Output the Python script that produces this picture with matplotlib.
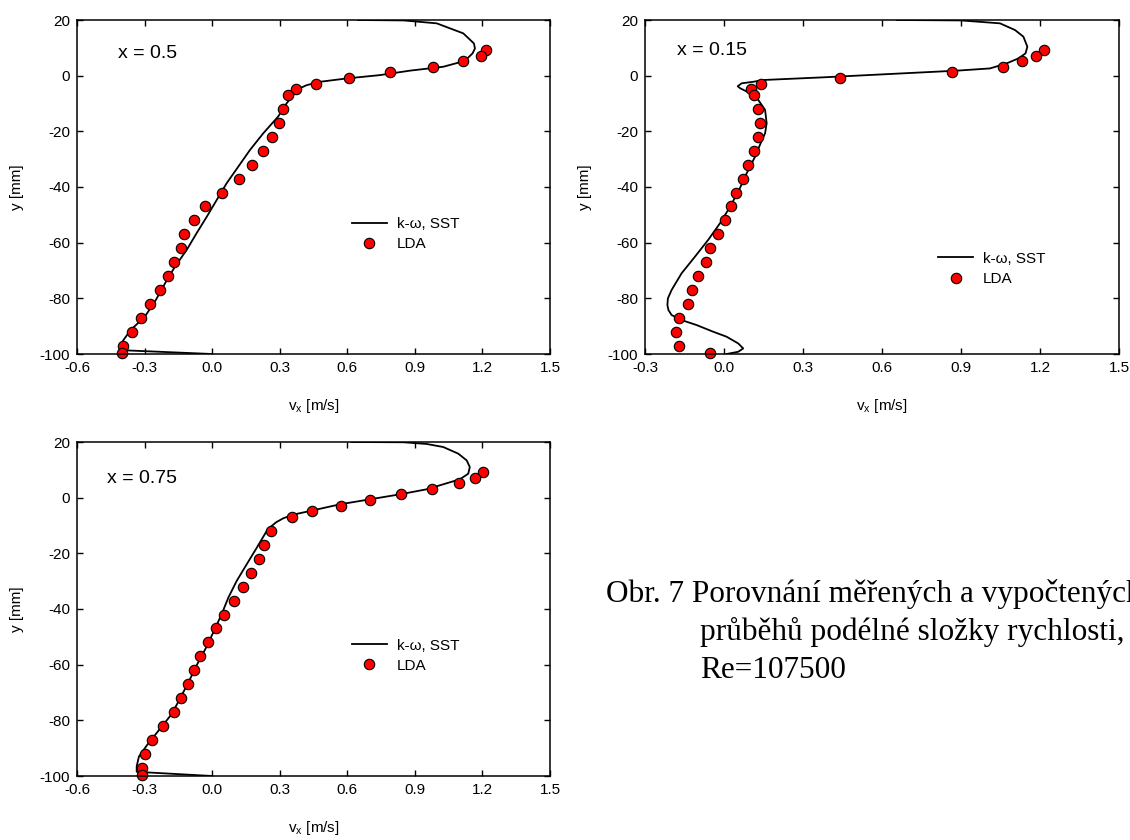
import matplotlib
matplotlib.use("Agg")
import matplotlib.pyplot as plt

plt.rcParams['font.family'] = ['Liberation Sans', 'DejaVu Sans']
plt.rcParams['axes.unicode_minus'] = False

# LDA measurement heights (same traverse for all three sections)
y_lda = [9.2, 7.2, 5.2, 3.1, 1.2, -0.9, -2.9, -4.9, -7.0, -12, -17, -22, -27, -32,
         -37, -42, -47, -52, -57, -62, -67, -72, -77, -82, -87, -92, -97, -99.5]

# x = 0.5
vx_lda_05 = [1.217, 1.192, 1.115, 0.98, 0.789, 0.609, 0.462, 0.373, 0.335, 0.316, 0.295,
             0.267, 0.227, 0.175, 0.118, 0.045, -0.03, -0.082, -0.124, -0.14, -0.168,
             -0.198, -0.232, -0.275, -0.315, -0.355, -0.396, -0.399]
vx_sst_05 = [0.647, 0.85, 0.997, 1.115, 1.162, 1.167, 1.156, 1.133, 1.108, 1.026, 0.878,
             0.745, 0.597, 0.479, 0.42, 0.39, 0.36, 0.331, 0.293, 0.227, 0.168, 0.116,
             0.064, 0.02, -0.024, -0.069, -0.113, -0.165, -0.209, -0.25, -0.299, -0.362,
             -0.394, -0.41, -0.41, 0.0]
y_sst_05 = [20.0, 19.85, 18.8, 15.2, 11.6, 9.8, 8.0, 6.2, 5.0, 3.2, 1.8,
            0.2, -1.0, -2.2, -3.4, -4.5, -7.0, -9.9, -14.7, -20.7, -26.7, -32.7,
            -38.7, -44.7, -50.7, -56.6, -62.6, -68.6, -74.6, -80.6, -86.6, -91.4,
            -95.0, -97.4, -98.6, -100.0]

# x = 0.15
vx_lda_015 = [1.214, 1.184, 1.132, 1.06, 0.865, 0.441, 0.14, 0.104, 0.113, 0.13, 0.136,
              0.13, 0.113, 0.09, 0.071, 0.046, 0.027, 0.002, -0.023, -0.052, -0.068,
              -0.1, -0.12, -0.138, -0.171, -0.183, -0.172, -0.054]
vx_sst_015 = [0.656, 0.9, 1.048, 1.105, 1.137, 1.152, 1.145, 1.118, 1.073, 1.01, 0.884,
              0.63, 0.377, 0.149, 0.111, 0.067, 0.052, 0.061, 0.099, 0.13, 0.156, 0.162,
              0.156, 0.139, 0.118, 0.086, 0.057, 0.023, -0.015, -0.06, -0.11, -0.161,
              -0.199, -0.213, -0.215, -0.211, -0.199, -0.155, -0.104, -0.041, 0.01,
              0.054, 0.073, 0.054, 0.01]
y_sst_015 = [20.0, 19.85, 18.8, 16.4, 14.0, 10.4, 8.0, 6.2, 4.4, 2.6, 1.8,
             0.6, -0.6, -1.56, -2.2, -2.75, -3.8, -4.5, -6.3, -8.7, -12.3, -17.1,
             -20.7, -24.3, -29.1, -35.1, -41.1, -47.1, -53.0, -59.0, -65.0, -71.0,
             -77.0, -80.0, -82.4, -84.2, -86.0, -88.0, -89.6, -92.0, -93.8,
             -96.2, -98.0, -99.2, -100.0]

# x = 0.75
vx_lda_075 = [1.203, 1.167, 1.096, 0.976, 0.838, 0.699, 0.572, 0.442, 0.356, 0.261, 0.231,
              0.206, 0.172, 0.135, 0.095, 0.054, 0.017, -0.02, -0.053, -0.079, -0.107,
              -0.138, -0.169, -0.217, -0.265, -0.3, -0.31, -0.31]
vx_sst_075 = [0.619, 0.85, 0.952, 1.026, 1.093, 1.13, 1.144, 1.137, 1.1, 1.026, 0.952,
              0.834, 0.7, 0.567, 0.434, 0.36, 0.316, 0.285, 0.262, 0.242, 0.198, 0.153,
              0.109, 0.072, 0.042, 0.008, -0.027, -0.066, -0.102, -0.14, -0.18, -0.239,
              -0.29, -0.325, -0.335, -0.335, 0.0]
y_sst_075 = [20.0, 19.9, 19.3, 18.2, 15.8, 13.4, 11.0, 8.6, 6.6, 4.8, 3.0,
             1.2, -0.6, -2.4, -4.8, -6.1, -7.4, -8.8, -10.3, -12.0, -18.0, -24.0,
             -29.9, -35.9, -41.9, -47.9, -53.9, -59.8, -65.8, -71.8, -77.8, -83.8,
             -89.0, -93.0, -96.5, -98.5, -100.0]

y_ticks = [-100, -80, -60, -40, -20, 0, 20]
x_ticks_wide = [-0.6, -0.3, 0.0, 0.3, 0.6, 0.9, 1.2, 1.5]
x_ticks_narrow = [-0.3, 0.0, 0.3, 0.6, 0.9, 1.2, 1.5]

W, H = 1130, 840
fig = plt.figure(figsize=(W / 100, H / 100), dpi=100)


def px_axes(left, top, right, bottom):
    return fig.add_axes([left / W, 1 - bottom / H, (right - left) / W, (bottom - top) / H])


def panel(ax, vx_sst, y_sst, vx_lda, xticks, title, tpos, legpos):
    ax.plot(vx_sst, y_sst, color='black', lw=1.3, label='k-ω, SST')
    ax.plot(vx_lda, y_lda, 'o', ms=7.5, mfc='red', mec='black', mew=0.8,
            label='LDA', clip_on=False)
    ax.set_xlim(xticks[0], xticks[-1])
    ax.set_ylim(-100, 20)
    ax.set_xticks(xticks)
    ax.set_xticklabels([f'{t:.1f}' for t in xticks])
    ax.set_yticks(y_ticks)
    ax.tick_params(direction='in', top=True, right=True, length=4.5, width=1,
                   labelsize=11, pad=5)
    for s in ax.spines.values():
        s.set_linewidth(1.1)
    ax.set_xlabel('v$_\\mathregular{x}$ [m/s]', fontsize=11)
    ax.set_ylabel('y [mm]', fontsize=11)
    ax.xaxis.set_label_coords(0.5, -0.13)
    ax.yaxis.set_label_coords(-0.112, 0.5)
    ax.text(tpos[0], tpos[1], title, transform=ax.transAxes, fontsize=14,
            va='center', ha='left')
    ax.legend(loc='center left', bbox_to_anchor=legpos, frameon=False,
              fontsize=11, handlelength=2.3, handletextpad=0.65,
              labelspacing=0.4, borderpad=0, borderaxespad=0, numpoints=1)


ax1 = px_axes(77, 20, 550, 354)
panel(ax1, vx_sst_05, y_sst_05, vx_lda_05, x_ticks_wide, 'x = 0.5',
      (0.087, 0.9), (0.581, 0.359))

ax2 = px_axes(645, 20, 1119, 354)
panel(ax2, vx_sst_015, y_sst_015, vx_lda_015, x_ticks_narrow, 'x = 0.15',
      (0.068, 0.908), (0.618, 0.255))

ax3 = px_axes(77, 442, 550, 776)
panel(ax3, vx_sst_075, y_sst_075, vx_lda_075, x_ticks_wide, 'x = 0.75',
      (0.063, 0.89), (0.581, 0.36))

# figure caption (runs off the right edge as in the source document)
cap = dict(fontsize=22.5, family=['Liberation Serif', 'DejaVu Serif'], ha='left',
           va='baseline')
fig.text(606 / W, 1 - 602 / H, 'Obr. 7 Porovnání měřených a vypočtených', **cap)
fig.text(700 / W, 1 - 640 / H, 'průběhů podélné složky rychlosti,', **cap)
fig.text(700 / W, 1 - 678 / H, 'Re=107500', **cap)

fig.savefig('out.png', dpi=100)
